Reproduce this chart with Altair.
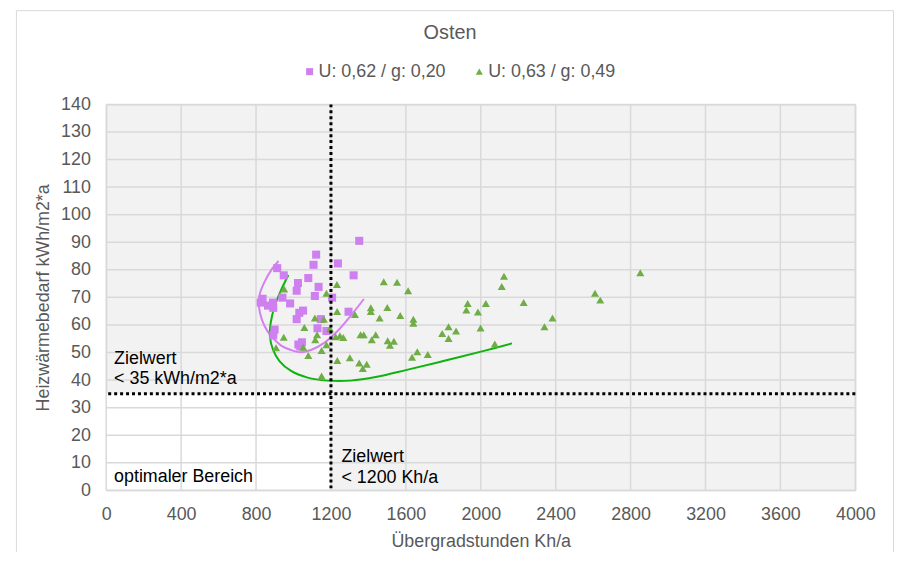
import altair as alt
import pandas as pd

# ---------------- data ----------------
series_names = ["U: 0,62 / g: 0,20", "U: 0,63 / g: 0,49"]
series_colors = ["#cf80f0", "#70ad47"]
series_shapes = ["square", "triangle-up"]

purple_x = [1351, 1121, 1107, 1237, 913, 948, 1321, 1079, 1024, 1134, 1017, 941, 1114, 1206,
            835, 825, 890, 864, 892, 982, 1051, 1031, 1294, 1146, 1017, 1128, 1176, 899, 892,
            1045, 1026, 1036]
purple_y = [90.5, 85.5, 81.8, 82.3, 80.6, 78, 78, 77, 75.2, 73.8, 72.4, 69.9, 70.5, 69.9,
            69.5, 68.1, 68.1, 67, 66.2, 67.8, 65.2, 64.4, 64.8, 62.1, 62.1, 58.8, 57.8, 58.3, 56.2,
            53.7, 52.9, 52.2]

green_x = [1232, 1482, 1553, 950, 1176, 1612, 2124, 2112, 1233, 1328, 1413, 1413, 1501, 1460,
           1570, 1640, 1640, 1114, 1162, 1058, 1195, 1126, 1225, 1248, 1266, 948, 1116, 1358,
           1375, 1439, 1418, 1503, 1515, 1536, 1176, 907, 1052, 1150, 1079, 1234, 1301, 1351,
           1391, 1370, 1150, 1930, 1923, 1985, 2027, 2229, 2383, 2340, 1999, 1828, 1794, 1868,
           1828, 1661, 1633, 1717, 2075, 2852, 2610, 2638]
green_y = [74.7, 75.7, 75.5, 73, 71.5, 72.4, 77.7, 73.9, 64.9, 63.8, 66.2, 64.9, 66.3, 62.5,
           63.4, 62.1, 60.6, 62.5, 62.1, 59.1, 58.6, 56.4, 55.7, 56.1, 55.4, 55.5, 54.6, 56.4,
           56.4, 56.4, 54.6, 54.3, 52.6, 54.1, 52.8, 51.7, 51.9, 50.7, 48.9, 47.1, 48.1, 46.2,
           45.7, 44.2, 41.5, 67.8, 65.4, 64.7, 67.8, 68.1, 62.5, 59.3, 58.9, 59.3, 56.9, 57.8,
           55.1, 50.3, 48.3, 49.3, 53.1, 78.9, 71.5, 69]

# trend curves
purple_curve_x = [920, 881, 846, 821, 814, 821, 846, 881, 934, 987, 1040, 1093, 1164, 1234, 1305, 1376]
purple_curve_y = [83.2, 79.9, 75.7, 71.5, 68.5, 64.3, 59.5, 55.9, 52.5, 50.9, 50.1, 50.9, 53.5, 57.7, 63.3, 69.4]
green_curve_x = [973, 934, 899, 878, 874, 890, 925, 987, 1075, 1181, 1305, 1446, 1605, 1800, 2012, 2167]
green_curve_y = [78.1, 72.7, 66.7, 60.7, 55.9, 51.1, 46.9, 43.3, 40.9, 39.8, 39.8, 41.2, 43.7, 46.9, 50.5, 53.3]
curve_colors = ["#d67ff2", "#0fb30f"]

x_ticks = [0, 400, 800, 1200, 1600, 2000, 2400, 2800, 3200, 3600, 4000]
y_ticks = [0, 10, 20, 30, 40, 50, 60, 70, 80, 90, 100, 110, 120, 130, 140]

target_x = 1200
target_y = 35

notes_text = ["Zielwert", "< 35 kWh/m2*a", "optimaler Bereich", "Zielwert", "< 1200 Kh/a"]
notes_x = [42, 42, 42, 1256, 1256]
notes_y = [45.7, 38.5, 3.2, 10.1, 2.5]

# ---------------- tables ----------------
pts = pd.concat([
    pd.DataFrame({"serie": series_names[0], "x": purple_x, "y": purple_y}),
    pd.DataFrame({"serie": series_names[1], "x": green_x, "y": green_y}),
])
pcurve = pd.DataFrame({"x": purple_curve_x, "y": purple_curve_y, "i": range(len(purple_curve_x))})
gcurve = pd.DataFrame({"x": green_curve_x, "y": green_curve_y, "i": range(len(green_curve_x))})
notes = pd.DataFrame({"x": notes_x, "y": notes_y, "t": notes_text})

xs = alt.Scale(domain=[0, 4000], nice=False, zero=True)
ys = alt.Scale(domain=[0, 140], nice=False, zero=True)
xaxis = alt.Axis(values=x_ticks, format="d", grid=False, domain=False, ticks=False, labelPadding=15,
                 labelFontSize=18, labelColor="#595959", titleFontSize=18, titleColor="#595959",
                 titleFontWeight="normal", titlePadding=10, labelFlush=False)
yaxis = alt.Axis(values=y_ticks, format="d", grid=False, domain=False, ticks=False, labelPadding=16,
                 labelFontSize=18, labelColor="#595959", titleFontSize=18, titleColor="#595959",
                 titleFontWeight="normal", titlePadding=8)


def X(f="x"):
    return alt.X(f, type="quantitative", scale=xs, axis=xaxis, title="Übergradstunden Kh/a")


def Y(f="y"):
    return alt.Y(f, type="quantitative", scale=ys, axis=yaxis, title="Heizwärmebedarf kWh/m2*a")


white = alt.Chart(pd.DataFrame({"x0": [0], "x1": [target_x], "y0": [0], "y1": [target_y]})).mark_rect(
    fill="white").encode(x=X("x0"), x2="x1", y=Y("y0"), y2="y1")

xgrid = alt.Chart(pd.DataFrame({"x": x_ticks})).mark_rule(color="#d9d9d9", strokeWidth=1.5).encode(x=X())
ygrid = alt.Chart(pd.DataFrame({"y": y_ticks})).mark_rule(color="#d9d9d9", strokeWidth=1.5).encode(y=Y())

vline = alt.Chart(pd.DataFrame({"x": [target_x]})).mark_rule(
    color="black", strokeWidth=3, strokeDash=[3, 3]).encode(x=X())
hline = alt.Chart(pd.DataFrame({"y": [target_y]})).mark_rule(
    color="black", strokeWidth=3, strokeDash=[3, 3]).encode(y=Y())

pline = alt.Chart(pcurve).mark_line(strokeWidth=2, interpolate="catmull-rom", color=curve_colors[0]).encode(
    x=X(), y=Y(), order="i:Q")
gline = alt.Chart(gcurve).mark_line(strokeWidth=2, interpolate="catmull-rom", color=curve_colors[1]).encode(
    x=X(), y=Y(), order="i:Q")

leg = alt.Legend(title=None, orient="none", legendX=196, legendY=-42,
                 direction="horizontal", labelFontSize=18,
                 labelColor="#595959", symbolSize=50, columnPadding=24,
                 labelOffset=0)

points = alt.Chart(pts).mark_point(filled=True, opacity=1, size=66).encode(
    x=X(), y=Y(),
    color=alt.Color("serie:N", scale=alt.Scale(domain=series_names, range=series_colors), legend=leg),
    shape=alt.Shape("serie:N", scale=alt.Scale(domain=series_names, range=series_shapes), legend=leg),
)

text = alt.Chart(notes).mark_text(align="left", baseline="alphabetic", fontSize=18, color="black").encode(
    x=X(), y=Y(), text="t:N")

frame = alt.Chart(pd.DataFrame({"a": [0]})).mark_rect(filled=False, stroke="#d9d9d9", strokeWidth=1).encode(
    x=alt.value(-90.5), x2=alt.value(793.5), y=alt.value(-94.5), y2=alt.value(480))

chart = alt.layer(white, xgrid, ygrid, pline, gline, points, vline, hline, text, frame).properties(
    width=755, height=389,
    title=alt.TitleParams(text="Osten", anchor="middle", frame="group", dx=-31, offset=-33,
                          fontSize=20, fontWeight="normal", color="#595959"),
    autosize=alt.AutoSizeParams(type="none"),
    padding={"left": 99, "top": 95, "right": 40, "bottom": 60},
).configure(font="Liberation Sans").configure_view(fill="#f2f2f2", stroke="#cccccc", strokeWidth=1)

chart.save("out.html", embed_options={"renderer": "svg", "actions": False})
